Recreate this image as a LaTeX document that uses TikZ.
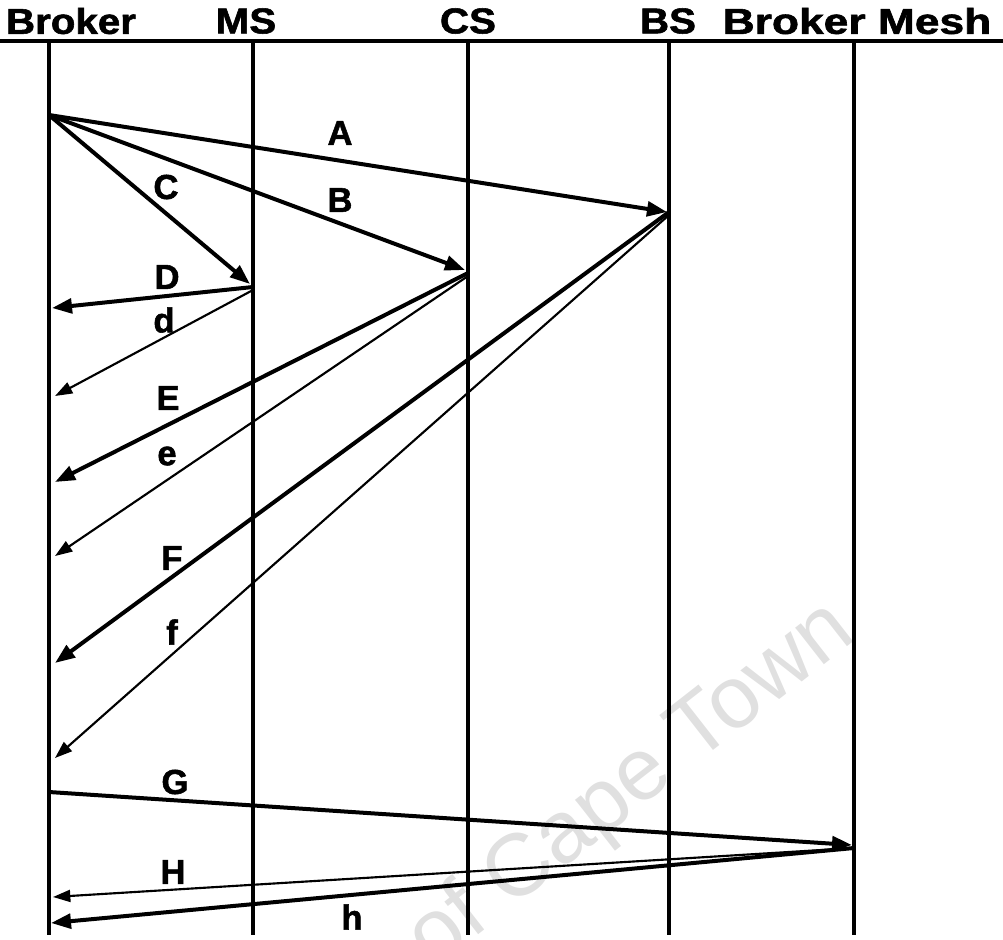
\documentclass[tikz,border=0pt]{standalone}
\usepackage{fontspec}
\setmainfont{Liberation Sans}
\newfontfamily\heavyfont{Liberation Sans}[BoldFeatures={FakeBold=1.5}]
\usepackage{graphicx}
\usetikzlibrary{arrows.meta}
\begin{document}
\begin{tikzpicture}[x=0.75pt,y=-0.75pt,
  lifeline/.style={line width=3.6pt},
  thickmsg/.style={line width=3pt,-{Triangle[length=15pt,width=11pt]}},
  thinmsg/.style={line width=1.6pt,-{Triangle[length=13pt,width=9pt]}},
  titletext/.style={font=\heavyfont\bfseries\fontsize{27}{27}\selectfont, inner sep=0pt, xscale=1.12, transform shape},
  lbl/.style={font=\heavyfont\bfseries\fontsize{26}{26}\selectfont, inner sep=0pt},
  watermark/.style={font=\fontsize{66}{66}\selectfont, text=black!12, inner sep=0pt, rotate=38}]
\useasboundingbox (0,0) rectangle (1003,939);
% watermark
\node[watermark, anchor=base east] (wm) at (858,638) {of Cape Town};
% titles
\node[titletext] (tBroker) at (71,21) {Broker};
\node[titletext] (tMS) at (246,21) {MS};
\node[titletext] (tCS) at (468,21) {CS};
\node[titletext] (tBS) at (668,21) {BS};
\node[titletext, xscale=1.1] (tMesh) at (857,21) {Broker Mesh};
\draw[line width=3pt] (0,41) -- (1003,41);
% lifelines
\coordinate (brT) at (49,41);  \coordinate (brB) at (49,935);
\coordinate (msT) at (253,41); \coordinate (msB) at (253,935);
\coordinate (csT) at (468,41); \coordinate (csB) at (468,935);
\coordinate (bsT) at (669,41); \coordinate (bsB) at (669,935);
\coordinate (meT) at (854,41); \coordinate (meB) at (854,935);
\foreach \l in {br,ms,cs,bs,me} \draw[lifeline] (\l T) -- (\l B);
% message end points
\coordinate (o1) at (49,115);
\coordinate (aE) at (667,212);
\coordinate (bE) at (465,270);
\coordinate (cE) at (250,284);
\coordinate (dS) at (253,287); \coordinate (dE) at (52,308);
\coordinate (d2S) at (253,290); \coordinate (d2E) at (55,396);
\coordinate (eS) at (468,273); \coordinate (eE) at (55,482);
\coordinate (e2S) at (468,276); \coordinate (e2E) at (55,556);
\coordinate (fS) at (669,212); \coordinate (fE) at (55,663);
\coordinate (f2S) at (669,215); \coordinate (f2E) at (55,758);
\coordinate (gS) at (49,792); \coordinate (gE) at (852,845);
\coordinate (hS) at (854,848); \coordinate (hE) at (53,897);
\coordinate (h2E) at (51,923);
% messages
\draw[thickmsg] (o1) -- (aE);
\draw[thickmsg] (o1) -- (bE);
\draw[thickmsg] (o1) -- (cE);
\draw[thickmsg] (dS) -- (dE);
\draw[thinmsg] (d2S) -- (d2E);
\draw[thickmsg] (eS) -- (eE);
\draw[thinmsg] (e2S) -- (e2E);
\draw[thickmsg] (fS) -- (fE);
\draw[thinmsg] (f2S) -- (f2E);
\draw[thickmsg] (gS) -- (gE);
\draw[thinmsg] (hS) -- (hE);
\draw[thickmsg] (hS) -- (h2E);
% labels
\node[lbl] (lA) at (340,133) {A};
\node[lbl] (lB) at (340,200) {B};
\node[lbl] (lC) at (166,187) {C};
\node[lbl] (lD) at (167,277) {D};
\node[lbl] (ld) at (164,320) {d};
\node[lbl] (lE) at (168,398) {E};
\node[lbl] (le) at (167,456) {e};
\node[lbl] (lF) at (172,558) {F};
\node[lbl] (lf) at (172,632) {f};
\node[lbl] (lG) at (175,782) {G};
\node[lbl] (lH) at (173,872) {H};
\node[lbl] (lh) at (352,917) {h};
\end{tikzpicture}
\end{document}
